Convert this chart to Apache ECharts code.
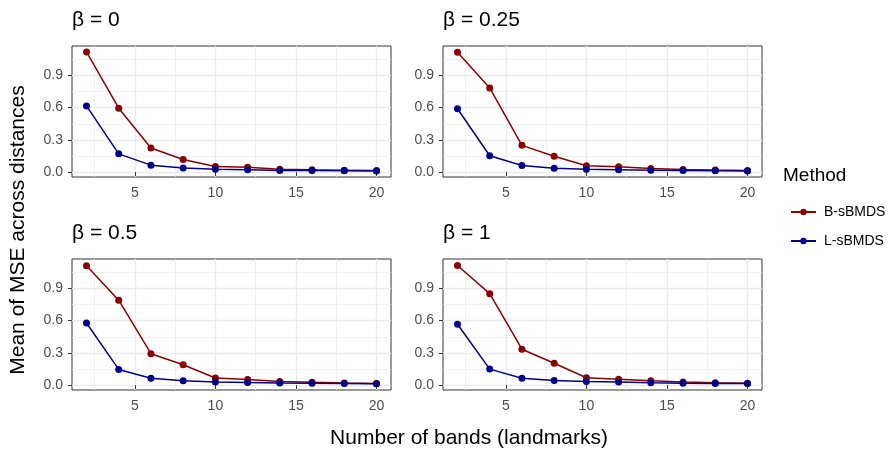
<!DOCTYPE html>
<html><head><meta charset="utf-8">
<script src="https://cdn.jsdelivr.net/npm/echarts@6/dist/echarts.min.js"></script>
<style>html,body{margin:0;padding:0;background:#fff}#c{width:895px;height:453px}</style>
</head><body><div id="c"></div>
<script>
// ---- data ----
const bands = [2, 4, 6, 8, 10, 12, 14, 16, 18, 20];
const panelTitles = ['β = 0', 'β = 0.25', 'β = 0.5', 'β = 1'];
const methods = ['B-sBMDS', 'L-sBMDS'];
const bBeta0   = [1.118, 0.595, 0.225, 0.117, 0.052, 0.045, 0.027, 0.021, 0.017, 0.014];
const lBeta0   = [0.616, 0.170, 0.065, 0.038, 0.026, 0.021, 0.016, 0.014, 0.012, 0.010];
const bBeta025 = [1.115, 0.783, 0.249, 0.147, 0.060, 0.049, 0.034, 0.025, 0.019, 0.016];
const lBeta025 = [0.590, 0.152, 0.062, 0.037, 0.026, 0.021, 0.017, 0.014, 0.012, 0.011];
const bBeta05  = [1.110, 0.790, 0.292, 0.189, 0.066, 0.052, 0.034, 0.026, 0.020, 0.016];
const lBeta05  = [0.578, 0.146, 0.064, 0.040, 0.030, 0.025, 0.020, 0.017, 0.015, 0.013];
const bBeta1   = [1.113, 0.851, 0.334, 0.204, 0.069, 0.055, 0.040, 0.030, 0.021, 0.017];
const lBeta1   = [0.566, 0.149, 0.064, 0.043, 0.033, 0.028, 0.022, 0.018, 0.016, 0.014];
const xTicks = [5, 10, 15, 20];
const xMinorTicks = [2.5, 7.5, 12.5, 17.5];
const yTicks = [0, 0.3, 0.6, 0.9];
const yMinorTicks = [0.15, 0.45, 0.75, 1.05];

// ---- layout / style ----
const FONT = '"Liberation Sans", Arial, Helvetica, sans-serif';
const colors = ['#8B0000', '#00008B'];
const panelData = [[bBeta0, lBeta0], [bBeta025, lBeta025], [bBeta05, lBeta05], [bBeta1, lBeta1]];
const pos = [{left: 72, top: 46}, {left: 443, top: 46}, {left: 72, top: 259}, {left: 443, top: 259}];
const PW = 319, PH = 131;

const allVals = panelData.flat(2);
const yMinD = Math.min(...allVals), yMaxD = Math.max(...allVals);
const yPad = (yMaxD - yMinD) * 0.05;
const xPad = (bands[bands.length - 1] - bands[0]) * 0.05;
const xMin = bands[0] - xPad, xMax = bands[bands.length - 1] + xPad;
const yMin = yMinD - yPad, yMax = yMaxD + yPad;

const grids = [], xAxes = [], yAxes = [], series = [], graphics = [];
pos.forEach((p, i) => {
  grids.push({left: p.left, top: p.top, width: PW, height: PH, show: true,
    backgroundColor: '#fff', borderColor: '#333333', borderWidth: 1, containLabel: false});
  xAxes.push({type: 'value', gridIndex: i, min: xMin, max: xMax, position: 'bottom',
    axisLine: {show: false},
    axisTick: {show: true, length: 4, customValues: xTicks, lineStyle: {color: '#333333', width: 1}},
    axisLabel: {show: true, customValues: xTicks, margin: 9, color: '#4D4D4D', fontSize: 14, fontFamily: FONT,
      formatter: v => String(v)},
    splitLine: {show: true, lineStyle: {color: '#EBEBEB', width: 1.4}}});
  xAxes.push({type: 'value', gridIndex: i, min: xMin, max: xMax, position: 'bottom',
    axisLine: {show: false},
    axisTick: {show: false, customValues: xMinorTicks},
    axisLabel: {show: false, customValues: xMinorTicks},
    splitLine: {show: true, lineStyle: {color: '#EBEBEB', width: 0.7}}});
  yAxes.push({type: 'value', gridIndex: i, min: yMin, max: yMax, position: 'left',
    axisLine: {show: false},
    axisTick: {show: true, length: 4, customValues: yTicks, lineStyle: {color: '#333333', width: 1}},
    axisLabel: {show: true, customValues: yTicks, margin: 9, color: '#4D4D4D', fontSize: 14, fontFamily: FONT,
      formatter: v => v.toFixed(1)},
    splitLine: {show: true, lineStyle: {color: '#EBEBEB', width: 1.4}}});
  yAxes.push({type: 'value', gridIndex: i, min: yMin, max: yMax, position: 'left',
    axisLine: {show: false},
    axisTick: {show: false, customValues: yMinorTicks},
    axisLabel: {show: false, customValues: yMinorTicks},
    splitLine: {show: true, lineStyle: {color: '#EBEBEB', width: 0.7}}});
  methods.forEach((m, k) => {
    series.push({name: m, type: 'line', xAxisIndex: 2 * i, yAxisIndex: 2 * i,
      data: bands.map((b, j) => [b, panelData[i][k][j]]),
      symbol: 'circle', symbolSize: 7, showSymbol: true,
      lineStyle: {color: colors[k], width: 1.5}, itemStyle: {color: colors[k]},
      emphasis: {disabled: true}, animation: false, z: 3 + k});
  });
  graphics.push({type: 'text', x: p.left, y: p.top - 26,
    style: {text: panelTitles[i], font: '21px ' + FONT, fill: '#000', align: 'left', verticalAlign: 'middle'}});
});

graphics.push({type: 'text', x: 18, y: 230, rotation: Math.PI / 2,
  style: {text: 'Mean of MSE across distances', font: '21px ' + FONT, fill: '#000', align: 'center', verticalAlign: 'middle'}});
graphics.push({type: 'text', x: 469, y: 438,
  style: {text: 'Number of bands (landmarks)', font: '21px ' + FONT, fill: '#000', align: 'center', verticalAlign: 'middle'}});
graphics.push({type: 'text', x: 783, y: 176,
  style: {text: 'Method', font: '19px ' + FONT, fill: '#000', align: 'left', verticalAlign: 'middle'}});

const chart = echarts.init(document.getElementById('c'), null, {renderer: 'canvas'});
chart.setOption({
  animation: false,
  backgroundColor: '#fff',
  grid: grids, xAxis: xAxes, yAxis: yAxes, series: series,
  legend: {data: methods, orient: 'vertical', left: 785, top: 200, itemWidth: 25, itemHeight: 8, itemGap: 15,
    selectedMode: false, textStyle: {fontSize: 14, fontFamily: FONT, color: '#000', padding: [0, 0, 0, 3]}},
  graphic: graphics
});
</script></body></html>
